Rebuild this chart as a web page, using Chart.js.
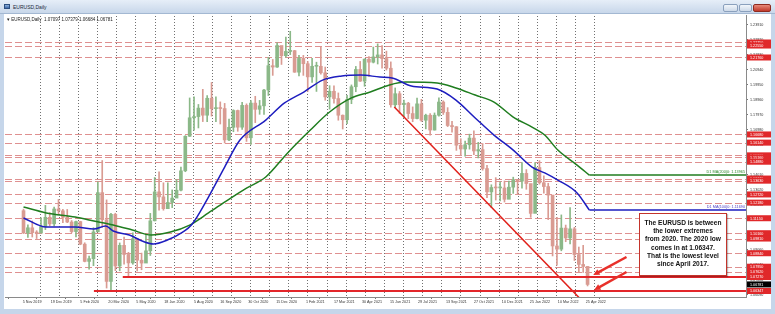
<!DOCTYPE html>
<html lang="en">
<head>
  <meta charset="UTF-8">
  <title>EURUSD,Daily</title>
  <script src="https://cdn.jsdelivr.net/npm/chart.js"></script>
  <style>
    html, body { margin: 0; padding: 0; }
    body {
      width: 775px; height: 314px; position: relative; overflow: hidden;
      background: #c6d6ea;
      font-family: 'Liberation Sans', Arial, sans-serif;
    }
    .titlebar {
      position: absolute; left: 0; top: 0; width: 775px; height: 14px;
      background: linear-gradient(#e6eef8, #c8d7ea);
      border-bottom: 1px solid #a3b8d2; box-sizing: border-box;
    }
    .titlebar .icon {
      position: absolute; left: 4px; top: 4px; width: 6px; height: 5px;
      background: linear-gradient(#8fb2dc, #3d69aa); border: 1px solid #2d4f80; box-sizing: border-box;
    }
    .titlebar .name { position: absolute; left: 13px; top: 4px; font-size: 5px; color: #1c2838; }
    .btn {
      position: absolute; top: 4px; height: 8px; border-radius: 2px; box-sizing: border-box;
      border: 1px solid #8aa0bd; background: linear-gradient(#f2f6fb, #cdd9e8);
    }
    .btn.min { left: 723px; width: 15px; }
    .btn.max { left: 739px; width: 13px; }
    .btn.close { left: 753px; width: 18px; background: linear-gradient(#e88a7a, #c0392b); border-color: #8e2a20; }
    .panel { position: absolute; left: 4px; top: 14px; width: 767px; height: 295px; background: #fff; }
    canvas { position: absolute; left: 0; top: 0; }
    .header { position: absolute; left: 7px; top: 17px; font-size: 4.5px; color: #222; white-space: nowrap; }
    .note {
      position: absolute; left: 639px; top: 213px; width: 88px; height: 63px;
      box-sizing: border-box; border: 1px solid #c4342b; background: #fff;
      box-shadow: 1px 1px 1px rgba(0,0,0,0.25);
      font-weight: bold; font-size: 6.6px; line-height: 8.2px; text-align: center;
      padding-top: 5px; color: #111;
    }
  </style>
</head>
<body>
  <div class="titlebar">
    <div class="icon"></div>
    <div class="name">EURUSD,Daily</div>
    <div class="btn min"></div><div class="btn max"></div><div class="btn close"></div>
  </div>
  <div class="panel"></div>
  <canvas id="fx" width="775" height="314"></canvas>
  <div class="header">▾ EURUSD,Daily&nbsp; 1.07097 1.07379 1.06684 1.06781</div>
  <div class="note">The EURUSD is between<br>the lower extremes<br>from 2020. The 2020 low<br>comes in at 1.06347.<br>That is the lowest level<br>since April 2017.</div>
  <script>
    // weekly ranges, week 0 = week of 4 Nov 2019
    const weekLow = [1.1014,1.0989,1.0991,1.0981,1.1040,1.1040,1.1066,1.1065,1.1140,1.1085,
      1.1086,1.1019,1.0992,1.0940,1.0827,1.0778,1.0802,1.1055,1.1055,1.0654,
      1.0636,1.0769,1.0768,1.0812,1.0727,1.0811,1.0767,1.0775,1.0871,1.0869,
      1.1097,1.1168,1.1168,1.1190,1.1185,1.1253,1.1295,1.1422,1.1655,1.1696,
      1.1711,1.1753,1.1753,1.1789,1.1753,1.1737,1.1612,1.1627,1.1686,1.1689,
      1.1702,1.1622,1.1603,1.1746,1.1801,1.1800,1.1925,1.2058,1.2110,1.2130,
      1.2178,1.2195,1.2078,1.2054,1.2058,1.1952,1.2011,1.1952,1.2066,1.1894,
      1.1835,1.1874,1.1762,1.1704,1.1740,1.1871,1.1950,1.2018,1.1986,1.2051,
      1.2140,1.2133,1.2105,1.2093,1.1848,1.1847,1.1807,1.1782,1.1772,1.1752,
      1.1770,1.1754,1.1705,1.1664,1.1697,1.1788,1.1800,1.1720,1.1683,1.1563,
      1.1529,1.1524,1.1571,1.1534,1.1513,1.1432,1.1250,1.1186,1.1235,1.1230,
      1.1222,1.1265,1.1279,1.1272,1.1313,1.1306,1.1121,1.1153,1.1340,1.1281,
      1.1106,1.0866,1.0806,1.0900,1.0960,1.0945,1.0836,1.0757,1.0757,1.0668];
    const weekHigh = [1.1175,1.1071,1.1097,1.1033,1.1117,1.1200,1.1152,1.1188,1.1239,1.1173,
      1.1173,1.1100,1.1096,1.1095,1.0953,1.0865,1.1053,1.1355,1.1496,1.1236,
      1.1147,1.1148,1.0952,1.0990,1.0890,1.1019,1.0981,1.0885,1.1008,1.1147,
      1.1384,1.1422,1.1349,1.1349,1.1302,1.1371,1.1452,1.1660,1.1909,1.1916,
      1.1866,1.1966,1.1924,1.2011,1.1917,1.1883,1.1873,1.1770,1.1831,1.1829,
      1.1880,1.1870,1.1891,1.1920,1.1893,1.1966,1.2177,1.2163,1.2273,1.2250,
      1.2310,1.2349,1.2223,1.2190,1.2190,1.2150,1.2170,1.2145,1.2243,1.2113,
      1.1990,1.1989,1.1942,1.1797,1.1927,1.1995,1.2117,1.2150,1.2167,1.2182,
      1.2245,1.2266,1.2255,1.2218,1.2147,1.1975,1.1952,1.1895,1.1880,1.1850,
      1.1908,1.1900,1.1802,1.1805,1.1810,1.1909,1.1890,1.1845,1.1755,1.1720,
      1.1640,1.1625,1.1670,1.1692,1.1616,1.1608,1.1464,1.1336,1.1383,1.1355,
      1.1361,1.1360,1.1386,1.1368,1.1482,1.1436,1.1340,1.1483,1.1495,1.1395,
      1.1346,1.1265,1.1121,1.1137,1.1070,1.1185,1.1055,1.0925,1.0936,1.0795];
    const weekClose = [1.1018,1.1052,1.1020,1.1017,1.1060,1.1121,1.1078,1.1176,1.1164,1.1121,
      1.1090,1.1027,1.1093,1.0944,1.0830,1.0848,1.1025,1.1284,1.1105,1.0698,
      1.1141,1.0800,1.0936,1.0876,1.0820,1.0980,1.0838,1.0819,1.0900,1.1098,
      1.1289,1.1256,1.1178,1.1219,1.1248,1.1300,1.1428,1.1656,1.1778,1.1786,
      1.1842,1.1795,1.1907,1.1838,1.1845,1.1839,1.1632,1.1715,1.1826,1.1716,
      1.1860,1.1646,1.1875,1.1834,1.1857,1.1961,1.2122,1.2113,1.2255,1.2188,
      1.2216,1.2221,1.2079,1.2170,1.2135,1.2048,1.2118,1.2118,1.2075,1.1916,
      1.1953,1.1905,1.1795,1.1765,1.1899,1.1983,1.2097,1.2020,1.2165,1.2145,
      1.2180,1.2193,1.2169,1.2105,1.1864,1.1937,1.1865,1.1874,1.1806,1.1773,
      1.1870,1.1762,1.1795,1.1697,1.1795,1.1882,1.1814,1.1727,1.1719,1.1597,
      1.1572,1.1600,1.1644,1.1559,1.1568,1.1443,1.1289,1.1318,1.1315,1.1315,
      1.1240,1.1320,1.1370,1.1360,1.1411,1.1344,1.1147,1.1450,1.1349,1.1324,
      1.1268,1.0932,1.0911,1.1050,1.0985,1.1045,1.0875,1.0810,1.0797,1.0678];
    const firstOpen = 1.1165;

    // moving averages (week position, price)
    const ma100Weeks = [0.4,5.6,12.2,16.5,19.2,20.9,24.6,28.1,30.1,33.3,36.8,38.8,42.7,46.4,49.9,55.8,60.1,
      64.5,68.8,73.2,77.5,81.9,84.7,89.1,95.0,99.3,103.7,108.0,112.4,116.7,119.6,122.6,127.0,129.8];
    const ma100 = [1.1117,1.1057,1.1057,1.1044,1.1064,1.1031,1.1004,1.0958,1.0945,1.0971,1.1024,1.1070,1.1255,
      1.1453,1.1631,1.1763,1.1876,1.1948,1.2027,1.2054,1.2060,1.2047,1.2041,1.1988,1.1968,1.1895,1.1777,
      1.1664,1.1565,1.1453,1.1414,1.1367,1.1282,1.1169];
    const ma200Weeks = [0.4,5.6,12.2,16.5,20.9,25.3,29.6,34.0,38.4,42.7,47.1,51.5,55.8,60.8,66.0,70.4,75.4,
      79.7,84.1,87.8,95.0,99.3,103.7,108.0,112.4,116.7,119.6,122.6,127.0,129.8];
    const ma200 = [1.1189,1.1150,1.1123,1.1097,1.1070,1.1037,1.1004,1.1024,1.1070,1.1150,1.1235,1.1315,1.1387,
      1.1546,1.1697,1.1816,1.1909,1.1948,1.1995,1.2014,1.2008,1.1975,1.1928,1.1882,1.1783,1.1717,1.1664,
      1.1565,1.1466,1.1400];
    const ma100Text = 'D1 MA(100)0: 1.11690';
    const ma200Text = 'D1 MA(200)0: 1.13965';

    const trendWeeks = [85.2, 128.0];
    const trendValues = [1.1849, 1.0575];

    const dashedLevels = [1.2275,1.2255,1.2176,1.1668,1.1614,1.1530,1.1516,1.1488,1.1377,1.1363,
      1.1272,1.1218,1.1115,1.1016,1.0981,1.0884,1.0795,1.0762];
    const solidLevels = [1.0727, 1.06347];
    const solidFrom = [23.1, 16.5];
    const lastPrice = 1.06781;

    const arrowTails = [[138.3, 1.0859], [138.3, 1.0760]];
    const arrowTips = [[130.7, 1.0740], [130.9, 1.0641]];

    const xLabels = ['5 Nov 2019','19 Dec 2019','5 Feb 2020','20 Mar 2020','5 May 2020','18 Jun 2020',
      '5 Aug 2020','16 Sep 2020','30 Oct 2020','15 Dec 2020','1 Feb 2021','17 Mar 2021','30 Apr 2021',
      '15 Jun 2021','29 Jul 2021','13 Sep 2021','27 Oct 2021','10 Dec 2021','25 Jan 2022','10 Mar 2022','25 Apr 2022'];
    const yTicks = [1.23910,1.22920,1.21930,1.20940,1.19950,1.18960,1.17970,1.16980,1.15990,1.15000,
      1.14010,1.13020,1.12030,1.11040,1.10050,1.09060,1.08070,1.07080,1.06090];

    const months = {Jan:0,Feb:1,Mar:2,Apr:3,May:4,Jun:5,Jul:6,Aug:7,Sep:8,Oct:9,Nov:10,Dec:11};
    const origin = Date.UTC(2019, 10, 4);
    function weekPos(s) {
      const p = s.split(' ');
      const days = Math.round((Date.UTC(+p[2], months[p[1]], +p[0]) - origin) / 86400000);
      return Math.floor(days / 7) + (days % 7) / 5;
    }
    const labelPos = xLabels.map(weekPos);

    const UP = '#8bb888', DOWN = '#d99b92';
    const opens = weekClose.map((c, i) => i === 0 ? firstOpen : weekClose[i - 1]);
    const barColors = weekClose.map((c, i) => c >= opens[i] ? UP : DOWN);

    const X_MIN = 0.2, X_MAX = 161.6, Y_MIN = 1.05951, Y_MAX = 1.24565;
    const GRID_START = 4.12, GRID_STEP = 4.373, GRID_COUNT = 30;
    const FONT = '"Liberation Sans", Arial, sans-serif';

    function arrow(ctx, x1, y1, x2, y2) {
      const ang = Math.atan2(y2 - y1, x2 - x1);
      ctx.beginPath(); ctx.moveTo(x1, y1);
      ctx.lineTo(x2 - 4 * Math.cos(ang), y2 - 4 * Math.sin(ang)); ctx.stroke();
      ctx.beginPath();
      ctx.moveTo(x2, y2);
      ctx.lineTo(x2 - 7 * Math.cos(ang - 0.45), y2 - 7 * Math.sin(ang - 0.45));
      ctx.lineTo(x2 - 7 * Math.cos(ang + 0.45), y2 - 7 * Math.sin(ang + 0.45));
      ctx.closePath(); ctx.fill();
    }

    const overlay = {
      id: 'overlay',
      beforeDatasetsDraw(chart) {
        const {ctx, chartArea: a, scales: {x, y}} = chart;
        ctx.save();
        // dotted vertical grid
        ctx.strokeStyle = '#707070'; ctx.lineWidth = 1; ctx.setLineDash([1, 2]);
        for (let k = 0; k < GRID_COUNT; k++) {
          const px = Math.round(x.getPixelForValue(GRID_START + GRID_STEP * k)) + 0.5;
          ctx.beginPath(); ctx.moveTo(px, a.top + 1); ctx.lineTo(px, a.bottom - 1); ctx.stroke();
        }
        // dashed resistance / support levels
        ctx.strokeStyle = '#df9090'; ctx.setLineDash([7, 3]);
        dashedLevels.forEach(v => {
          const py = Math.round(y.getPixelForValue(v)) + 0.5;
          ctx.beginPath(); ctx.moveTo(a.left, py); ctx.lineTo(a.right, py); ctx.stroke();
        });
        ctx.restore();
      },
      afterDatasetsDraw(chart) {
        const {ctx, chartArea: a, scales: {x, y}} = chart;
        ctx.save();
        ctx.beginPath(); ctx.rect(a.left, a.top, a.width, a.height); ctx.clip();
        // solid support lines
        ctx.strokeStyle = '#e3262a'; ctx.lineWidth = 2;
        solidLevels.forEach((v, i) => {
          const py = y.getPixelForValue(v);
          ctx.beginPath(); ctx.moveTo(x.getPixelForValue(solidFrom[i]), py); ctx.lineTo(a.right, py); ctx.stroke();
        });
        // moving averages carried flat to the right edge
        [[ma100Weeks, ma100, '#1d1dbf', ma100Text, '#4b3fc4'], [ma200Weeks, ma200, '#1f7d1f', ma200Text, '#2c8a2c']]
          .forEach(([w, v, col, txt, tcol]) => {
            const px = x.getPixelForValue(w[w.length - 1]);
            const py = y.getPixelForValue(v[v.length - 1]);
            ctx.strokeStyle = col; ctx.lineWidth = 1.5;
            ctx.beginPath(); ctx.moveTo(px, py); ctx.lineTo(a.right, py); ctx.stroke();
            ctx.fillStyle = tcol; ctx.font = '3.8px ' + FONT;
            ctx.textAlign = 'right'; ctx.textBaseline = 'bottom';
            ctx.fillText(txt, a.right - 1, py - 1);
          });
        // arrows
        ctx.strokeStyle = '#e8302a'; ctx.fillStyle = '#e8302a'; ctx.lineWidth = 2.5;
        arrowTails.forEach((t, i) => {
          arrow(ctx, x.getPixelForValue(t[0]), y.getPixelForValue(t[1]),
            x.getPixelForValue(arrowTips[i][0]), y.getPixelForValue(arrowTips[i][1]));
        });
        ctx.restore();
      },
      afterDraw(chart) {
        const {ctx, chartArea: a, scales: {y}} = chart;
        ctx.save();
        ctx.font = '3.7px ' + FONT; ctx.textBaseline = 'middle'; ctx.textAlign = 'left';
        const tag = (v, bg) => {
          const py = y.getPixelForValue(v);
          ctx.fillStyle = bg; ctx.fillRect(a.right + 1, py - 3, 24, 6);
          ctx.fillStyle = '#fff'; ctx.fillText(v.toFixed(5), a.right + 4, py + 0.3);
        };
        dashedLevels.forEach(v => tag(v, '#e0282a'));
        solidLevels.forEach(v => tag(v, '#e0282a'));
        tag(lastPrice, '#000');
        ctx.restore();
      }
    };

    new Chart(document.getElementById('fx'), {
      data: {
        datasets: [
          {
            type: 'bar', order: 6, grouped: false, barThickness: 1,
            data: weekLow.map((l, i) => ({x: i + 0.4, y: [l, weekHigh[i]]})),
            backgroundColor: barColors
          },
          {
            type: 'bar', order: 5, grouped: false, barThickness: 3, minBarLength: 1,
            data: weekClose.map((c, i) => ({x: i + 0.4, y: [opens[i], c]})),
            backgroundColor: barColors
          },
          {
            type: 'line', order: 3, data: ma100Weeks.map((w, i) => ({x: w, y: ma100[i]})),
            borderColor: '#1d1dbf', borderWidth: 1.5, pointRadius: 0, cubicInterpolationMode: 'monotone'
          },
          {
            type: 'line', order: 4, data: ma200Weeks.map((w, i) => ({x: w, y: ma200[i]})),
            borderColor: '#1f7d1f', borderWidth: 1.5, pointRadius: 0, cubicInterpolationMode: 'monotone'
          },
          {
            type: 'line', order: 2, data: trendWeeks.map((w, i) => ({x: w, y: trendValues[i]})),
            borderColor: '#e0201a', borderWidth: 1.5, pointRadius: 0
          }
        ]
      },
      options: {
        responsive: false,
        animation: false,
        layout: { padding: { left: 5, top: 15, right: 4, bottom: 5 } },
        plugins: { legend: { display: false }, tooltip: { enabled: false } },
        scales: {
          x: {
            type: 'linear', position: 'bottom', min: X_MIN, max: X_MAX,
            afterBuildTicks: s => { s.ticks = labelPos.map(v => ({value: v})); },
            afterFit: s => { s.height = 12; },
            ticks: {
              autoSkip: false, maxRotation: 0, align: 'start', padding: 1,
              font: { size: 3.7, family: FONT }, color: '#333',
              callback: (v, i) => xLabels[i]
            },
            grid: { drawOnChartArea: false, drawTicks: true, tickLength: 2, color: '#777' },
            border: { display: true, color: '#8a8a8a' }
          },
          y: {
            type: 'linear', position: 'right', min: Y_MIN, max: Y_MAX,
            afterBuildTicks: s => { s.ticks = yTicks.map(v => ({value: v})); },
            afterFit: s => { s.width = 25; },
            ticks: {
              padding: 2, font: { size: 3.7, family: FONT }, color: '#333',
              callback: v => v.toFixed(5)
            },
            grid: { drawOnChartArea: false, drawTicks: true, tickLength: 2, color: '#777' },
            border: { display: true, color: '#8a8a8a' }
          }
        }
      },
      plugins: [overlay]
    });
  </script>
</body>
</html>
